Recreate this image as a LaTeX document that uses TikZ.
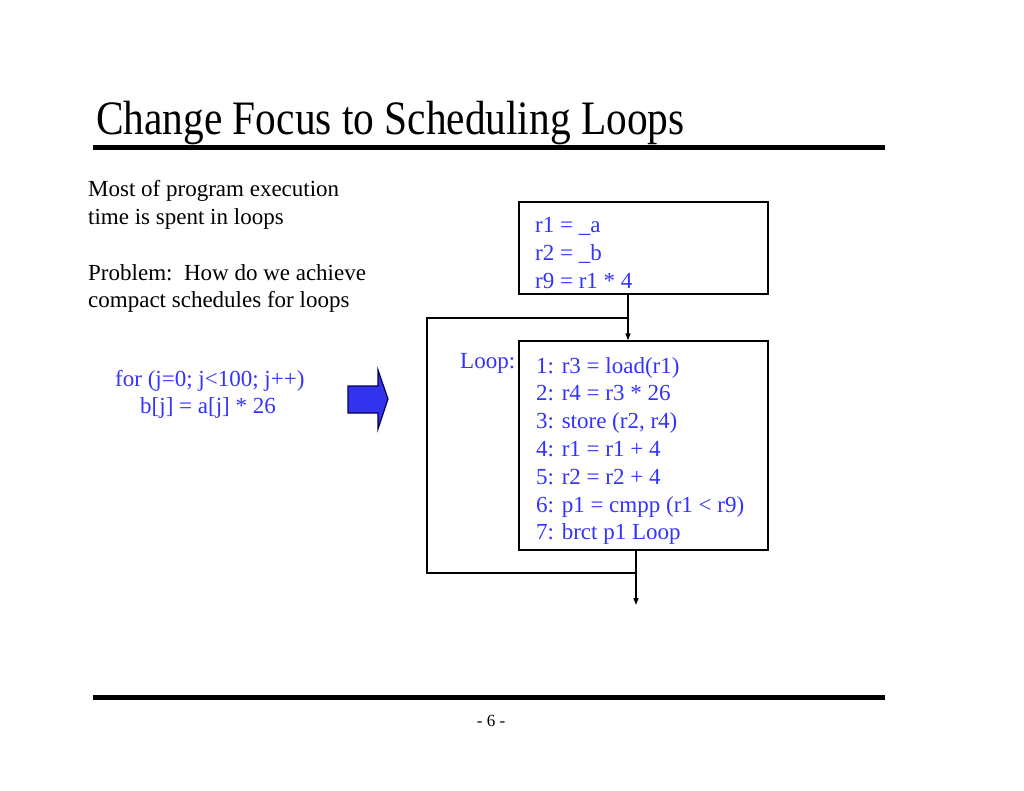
\documentclass[tikz,border=0pt]{standalone}
\usepackage{fontspec}
\setmainfont{Liberation Serif}
\usetikzlibrary{arrows.meta}
\definecolor{codeblue}{RGB}{51,51,255}
\definecolor{arrowfill}{RGB}{51,51,238}
\definecolor{arrowedge}{RGB}{0,0,90}
\begin{document}
\begin{tikzpicture}[x=1pt,y=-1pt,
  body/.style={anchor=base west,inner sep=0pt,font=\fontsize{23}{27.6}\selectfont},
  code/.style={body,text=codeblue},
  flowbox/.style={draw=black,line width=1.3pt,rectangle,inner sep=0pt},
  rule/.style={line width=5pt},
  conn/.style={line width=1.3pt},
  tip/.style={-{Triangle[length=7pt,width=5pt]}}]
\useasboundingbox[fill=white] (0,0) rectangle (1024,791);
% title and rules
\node[anchor=base west,inner sep=0pt,font=\fontsize{48}{50}\selectfont] (title) at (96,135)
  {\scalebox{0.862}[1]{Change Focus to Scheduling Loops}};
\coordinate (r1a) at (93,147.5);
\coordinate (r1b) at (885,147.5);
\draw[rule] (r1a) -- (r1b);
\coordinate (r2a) at (93,697);
\coordinate (r2b) at (885,697);
\draw[rule] (r2a) -- (r2b);
\node[anchor=base,inner sep=0pt,font=\fontsize{17}{20}\selectfont] (page) at (491,726) {- 6 -};
% left text
\node[body] (t1) at (88,197) {Most of program execution};
\node[body] (t2) at (88,224.5) {time is spent in loops};
\node[body] (t3) at (88,280) {Problem:\ \ How do we achieve};
\node[body] (t4) at (88,307.5) {compact schedules for loops};
\node[code] (c1) at (115,386) {for (j=0; j<100; j++)};
\node[code] (c2) at (140,413.5) {b[j] = a[j] * 26};
% block arrow
\draw[fill=arrowfill,draw=arrowedge,line width=1.2pt,line join=miter]
  (348,386) -- (378,386) -- (378,370) -- (388,399) -- (378,429) -- (378,413) -- (348,413) -- cycle;
% boxes
\node[flowbox,minimum width=249pt,minimum height=92pt] (box1) at (643.5,248) {};
\node[flowbox,minimum width=249pt,minimum height=209pt] (box2) at (643.5,445.5) {};
\node[code] (b1a) at (535,233) {r1 = \_a};
\node[code] (b1b) at (535,260.5) {r2 = \_b};
\node[code] (b1c) at (535,288) {r9 = r1 * 4};
\node[code] (loop) at (460,368) {Loop:};
\node[code] (l1) at (536,373) {1: r3 = load(r1)};
\node[code] (l2) at (536,400.8) {2: r4 = r3 * 26};
\node[code] (l3) at (536,428.6) {3: store (r2, r4)};
\node[code] (l4) at (536,456.4) {4: r1 = r1 + 4};
\node[code] (l5) at (536,484.2) {5: r2 = r2 + 4};
\node[code] (l6) at (536,512) {6: p1 = cmpp (r1 < r9)};
\node[code] (l7) at (536,539.8) {7: brct p1 Loop};
% connectors
\coordinate (j1) at (628,318);
\coordinate (lb) at (636,573);
\coordinate (out) at (636,605);
\draw[conn,tip] (box1.south -| j1) -- (box2.north -| j1);
\draw[conn,line join=miter] (lb) -- (427,573) -- (427,318) -- (j1);
\draw[conn,tip] (box2.south -| lb) -- (out);
\end{tikzpicture}
\end{document}
